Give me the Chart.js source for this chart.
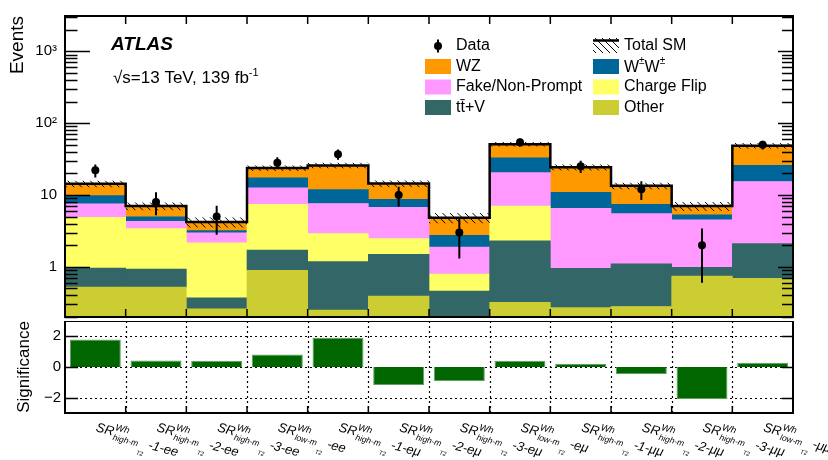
<!DOCTYPE html>
<html>
<head>
<meta charset="utf-8">
<script src="https://cdn.jsdelivr.net/npm/chart.js@4.4.0/dist/chart.umd.min.js"></script>
<style>
  html, body { margin: 0; padding: 0; background: #fff; }
  #wrap { position: relative; width: 828px; height: 460px; }
  #top { position: absolute; left: 0; top: 0; }
  #bot { position: absolute; left: 0; top: 321px; }
</style>
</head>
<body>
<div id="wrap">
  <canvas id="top" width="828" height="321"></canvas>
  <canvas id="bot" width="828" height="139"></canvas>
</div>
<script>
const FONT = '"Liberation Sans", Arial, Helvetica, sans-serif';

// signal regions
const srSub = ['high', 'high', 'high', 'low', 'high', 'high', 'high', 'low', 'high', 'high', 'high', 'low'];
const srSuffix = ['-1-ee', '-2-ee', '-3-ee', '-ee', '-1-eμ', '-2-eμ', '-3-eμ', '-eμ', '-1-μμ', '-2-μμ', '-3-μμ', '-μμ'];
const categories = srSub.map((s, i) => 'SR_' + s + srSuffix[i]);

// backgrounds, stacked from bottom to top
const other      = [0.52, 0.52, 0.26, 0.89, 0.25, 0.39, 0.10, 0.32, 0.27, 0.28, 0.74, 0.69];
const ttV        = [0.44, 0.41, 0.11, 0.82, 0.93, 1.10, 0.36, 1.98, 0.68, 0.82, 0.24, 1.42];
const chargeFlip = [3.94, 2.47, 1.79, 5.69, 1.72, 0.98, 0.33, 4.70, 0, 0, 0, 0];
const fake       = [2.60, 0.90, 0.80, 5.20, 4.70, 4.23, 1.09, 13.5, 5.55, 4.40, 3.52, 13.3];
const ww         = [2.30, 0.67, 0.23, 4.70, 4.30, 2.00, 0.87, 12.4, 4.40, 1.90, 0.80, 10.4];
const wz         = [4.50, 2.03, 1.01, 6.40, 13.9, 5.70, 2.05, 18.1, 13.4, 6.00, 1.70, 22.7];
const smUnc      = [1.6, 0.9, 0.7, 2.2, 2.5, 1.6, 0.8, 4.0, 2.5, 1.5, 1.0, 4.5];

// observed data
const dataObs  = [22, 8, 5, 28, 37, 10, 3, 54, 25, 12, 2, 50];
const dataLow  = [17.5, 5.2, 2.8, 23.9, 31, 6.9, 1.3, 47, 20.2, 8.5, 0.6, 43];
const dataHigh = [26.6, 10.9, 7.1, 33.6, 43, 13, 4.8, 61, 29.9, 15.5, 3.4, 57];

const significance = [1.8, 0.43, 0.4, 0.81, 1.9, -1.18, -0.92, 0.41, 0.2, -0.46, -2.08, 0.28];

const yTickValues = [1, 10, 100, 1000];
const yTickLabels = ['1', '10', '10²', '10³'];
const sigTickValues = [-2, 0, 2];
const sigTickLabels = ['−2', '0', '2'];

const stackNames = ['Other', 'tt̄+V', 'Charge Flip', 'Fake/Non-Prompt', 'W±W±', 'WZ'];
const stackValues = [other, ttV, chargeFlip, fake, ww, wz];
const stackColors = ['#cccc33', '#336666', '#ffff66', '#ff99ff', '#006699', '#ff9900'];

const totalSM = categories.map((_, i) => stackValues.reduce((s, arr) => s + arr[i], 0));

function binGeom(chart, i) {
    const xs = chart.scales.x;
    const half = (xs.getPixelForValue(1) - xs.getPixelForValue(0)) / 2;
    const c = xs.getPixelForValue(i);
    return [c - half, c + half, c];
}

function hatchRect(ctx, x0, y0, x1, y1, step) {
    ctx.save();
    ctx.beginPath();
    ctx.rect(x0, y0, x1 - x0, y1 - y0);
    ctx.clip();
    ctx.beginPath();
    const h = y1 - y0;
    const start = Math.floor((x0 - h) / step) * step;
    for (let x = start; x <= x1; x += step) {
        ctx.moveTo(x, y0);
        ctx.lineTo(x + h, y1);
    }
    ctx.lineWidth = 1;
    ctx.strokeStyle = '#000';
    ctx.stroke();
    ctx.restore();
}

// text with small raised/lowered parts
function textParts(ctx, x, y, parts) {
    for (const p of parts) {
        ctx.font = p.font;
        ctx.fillText(p.t, x, y + (p.dy || 0));
        x += ctx.measureText(p.t).width + (p.gap || 0);
    }
    return x;
}

// fixed axis box, no extra label padding
function fixAxis(s) {
    s.width = 65;
    s.paddingTop = 0;
    s.paddingBottom = 0;
}

const dataIndex = stackValues.length;

// ROOT style decorations for the upper pad
const topDeco = {
    id: 'topDeco',
    beforeDatasetDraw(chart, args) {
        if (args.index !== dataIndex) return;
        const ctx = chart.ctx;
        const y = chart.scales.y;
        const area = chart.chartArea;
        ctx.save();
        ctx.beginPath();
        ctx.rect(area.left, area.top, area.right - area.left, area.bottom - area.top);
        ctx.clip();
        // uncertainty hatch
        totalSM.forEach((t, i) => {
            const [xl, xr] = binGeom(chart, i);
            hatchRect(ctx, xl, y.getPixelForValue(t + smUnc[i]), xr, y.getPixelForValue(t - smUnc[i]), 7.5);
        });
        // total SM line
        ctx.beginPath();
        totalSM.forEach((t, i) => {
            const [xl, xr] = binGeom(chart, i);
            const yp = y.getPixelForValue(t);
            if (i === 0) ctx.moveTo(xl, yp); else ctx.lineTo(xl, yp);
            ctx.lineTo(xr, yp);
        });
        ctx.lineWidth = 2.5;
        ctx.strokeStyle = '#000';
        ctx.stroke();
        // data error bars
        ctx.beginPath();
        dataObs.forEach((d, i) => {
            const [, , xc] = binGeom(chart, i);
            ctx.moveTo(xc, y.getPixelForValue(dataHigh[i]));
            ctx.lineTo(xc, y.getPixelForValue(dataLow[i]));
        });
        ctx.lineWidth = 2;
        ctx.stroke();
        ctx.restore();
    },
    afterDraw(chart) {
        const ctx = chart.ctx;
        const a = chart.chartArea;
        const y = chart.scales.y;
        ctx.save();
        ctx.strokeStyle = '#000';
        ctx.fillStyle = '#000';
        // inward ticks on the log axis
        ctx.lineWidth = 1.5;
        ctx.beginPath();
        for (let k = -1; k <= 3; k++) {
            for (let m = 1; m <= 9; m++) {
                const v = m * Math.pow(10, k);
                if (v < y.min || v > y.max) continue;
                const yp = Math.round(y.getPixelForValue(v)) + 0.5;
                const major = m === 1;
                ctx.moveTo(a.left, yp); ctx.lineTo(a.left + (major ? 25 : 12.5), yp);
                ctx.moveTo(a.right, yp); ctx.lineTo(a.right - (major ? 15 : 11), yp);
            }
        }
        for (let i = 0; i <= categories.length; i++) {
            const xp = i < categories.length ? binGeom(chart, i)[0] : binGeom(chart, i - 1)[1];
            ctx.moveTo(xp, a.top); ctx.lineTo(xp, a.top + 8);
            ctx.moveTo(xp, a.bottom); ctx.lineTo(xp, a.bottom - 8);
        }
        ctx.stroke();
        // frame
        ctx.lineWidth = 2;
        ctx.strokeRect(a.left, a.top, a.right - a.left, a.bottom - a.top);

        // labels
        ctx.textBaseline = 'alphabetic';
        ctx.font = 'italic bold 19px ' + FONT;
        ctx.fillText('ATLAS', 111, 50);
        textParts(ctx, 113, 83, [
            { t: '√s=13 TeV, 139 fb', font: '17px ' + FONT },
            { t: '-1', font: '11px ' + FONT, dy: -7 }
        ]);

        // legend
        const rows = [45.5, 66.5, 87, 107.5];
        const c1 = 425, c2 = 593, bw = 26, bh = 15;
        ctx.textBaseline = 'middle';
        ctx.font = '16px ' + FONT;
        // Data
        ctx.beginPath();
        ctx.arc(c1 + 13, rows[0] + 0.5, 4, 0, Math.PI * 2);
        ctx.fill();
        ctx.beginPath();
        ctx.moveTo(c1 + 13, rows[0] - 6); ctx.lineTo(c1 + 13, rows[0] + 7);
        ctx.lineWidth = 2; ctx.stroke();
        ctx.fillText('Data', c1 + 31, rows[0]);
        // Total SM
        hatchRect(ctx, c2, rows[0] - 7.5, c2 + bw, rows[0] + 7.5, 7);
        ctx.beginPath();
        ctx.moveTo(c2, rows[0] - 5); ctx.lineTo(c2 + bw, rows[0] - 5);
        ctx.lineWidth = 2.5; ctx.stroke();
        ctx.fillText('Total SM', c2 + 31, rows[0]);
        const sets = chart.data.datasets;
        const byLabel = l => sets.find(s => s.label === l);
        const col1 = ['WZ', 'Fake/Non-Prompt', 'tt̄+V'];
        const col2 = ['W±W±', 'Charge Flip', 'Other'];
        col1.forEach((l, r) => {
            ctx.fillStyle = byLabel(l).backgroundColor;
            ctx.fillRect(c1, rows[r + 1] - bh / 2, bw, bh);
            ctx.fillStyle = '#000';
            ctx.font = '16px ' + FONT;
            ctx.fillText(l, c1 + 31, rows[r + 1]);
        });
        col2.forEach((l, r) => {
            ctx.fillStyle = byLabel(l).backgroundColor;
            ctx.fillRect(c2, rows[r + 1] - bh / 2, bw, bh);
            ctx.fillStyle = '#000';
            if (l === 'W±W±') {
                textParts(ctx, c2 + 31, rows[r + 1] + 1, [
                    { t: 'W', font: '16px ' + FONT },
                    { t: '±', font: '10px ' + FONT, dy: -6 },
                    { t: 'W', font: '16px ' + FONT },
                    { t: '±', font: '10px ' + FONT, dy: -6 }
                ]);
            } else {
                ctx.font = '16px ' + FONT;
                ctx.fillText(l, c2 + 31, rows[r + 1]);
            }
        });
        ctx.restore();
    }
};

const barSets = stackValues.map((vals, i) => ({
    type: 'bar',
    label: stackNames[i],
    data: vals,
    backgroundColor: stackColors[i],
    borderWidth: 0,
    barPercentage: 1,
    categoryPercentage: 1,
    stack: 'sm',
    order: 2
}));

new Chart(document.getElementById('top'), {
    type: 'bar',
    data: {
        labels: categories,
        datasets: [...barSets, {
            type: 'line',
            label: 'Data',
            data: dataObs,
            showLine: false,
            pointRadius: 4,
            pointBackgroundColor: '#000',
            pointBorderColor: '#000',
            pointBorderWidth: 0,
            stack: 'obs',
            order: 0
        }]
    },
    options: {
        responsive: false,
        animation: false,
        events: [],
        layout: { padding: { left: 0, right: 35, top: 16, bottom: 1 } },
        plugins: { legend: { display: false }, tooltip: { enabled: false } },
        scales: {
            x: { display: false, stacked: true },
            y: {
                type: 'logarithmic',
                min: 0.2,
                max: 3100,
                stacked: true,
                afterBuildTicks: s => { s.ticks = yTickValues.map(v => ({ value: v })); },
                afterFit: fixAxis,
                ticks: {
                    callback: (v, i) => yTickLabels[i],
                    color: '#000',
                    padding: 8,
                    font: { family: FONT, size: 15 }
                },
                grid: { display: false, drawTicks: false },
                border: { display: false },
                title: {
                    display: true,
                    text: 'Events',
                    align: 'end',
                    color: '#000',
                    padding: { top: 6, bottom: 0 },
                    font: { family: FONT, size: 19 }
                }
            }
        }
    },
    plugins: [topDeco]
});

// lower pad
function drawSRLabel(ctx, x, y, sub, suffix) {
    ctx.save();
    ctx.translate(x, y);
    ctx.rotate(15 * Math.PI / 180);
    ctx.fillStyle = '#000';
    ctx.textBaseline = 'alphabetic';
    ctx.font = 'italic 13px ' + FONT;
    ctx.fillText('SR', 0, 0);
    const u = ctx.measureText('SR').width;
    ctx.font = 'italic 9.5px ' + FONT;
    ctx.fillText('Wh', u + 0.5, -6);
    ctx.font = 'italic 8.5px ' + FONT;
    ctx.fillText(sub + '-m', u + 0.5, 4);
    let u2 = u + 0.5 + ctx.measureText(sub + '-m').width + 0.5;
    ctx.font = 'italic 6px ' + FONT;
    ctx.fillText('T2', u2, 12);
    u2 += ctx.measureText('T2').width + 3;
    ctx.font = 'italic 13px ' + FONT;
    ctx.fillText(suffix, u2, 3.5);
    ctx.restore();
}

const botDeco = {
    id: 'botDeco',
    beforeDatasetsDraw(chart) {
        const ctx = chart.ctx;
        const a = chart.chartArea;
        const y = chart.scales.y;
        ctx.save();
        ctx.strokeStyle = '#000';
        ctx.lineWidth = 1.2;
        ctx.setLineDash([2, 3]);
        ctx.beginPath();
        sigTickValues.forEach(v => {
            const yp = Math.round(y.getPixelForValue(v)) + 0.5;
            ctx.moveTo(a.left, yp); ctx.lineTo(a.right, yp);
        });
        for (let i = 1; i < categories.length; i++) {
            const xp = Math.round(binGeom(chart, i)[0]) + 0.5;
            ctx.moveTo(xp, a.top); ctx.lineTo(xp, a.bottom);
        }
        ctx.stroke();
        ctx.restore();
    },
    afterDraw(chart) {
        const ctx = chart.ctx;
        const a = chart.chartArea;
        const y = chart.scales.y;
        ctx.save();
        ctx.strokeStyle = '#000';
        ctx.lineWidth = 1.5;
        ctx.beginPath();
        sigTickValues.forEach(v => {
            const yp = Math.round(y.getPixelForValue(v)) + 0.5;
            ctx.moveTo(a.left, yp); ctx.lineTo(a.left + 13, yp);
            ctx.moveTo(a.right, yp); ctx.lineTo(a.right - 11, yp);
        });
        for (let i = 1; i < categories.length; i++) {
            const xp = binGeom(chart, i)[0];
            ctx.moveTo(xp, a.bottom); ctx.lineTo(xp, a.bottom - 7);
        }
        ctx.stroke();
        ctx.lineWidth = 2;
        ctx.strokeRect(a.left, a.top, a.right - a.left, a.bottom - a.top);
        categories.forEach((c, i) => {
            const xc = binGeom(chart, i)[2];
            drawSRLabel(ctx, xc, a.bottom + 18, srSub[i], srSuffix[i]);
        });
        ctx.restore();
    }
};

new Chart(document.getElementById('bot'), {
    type: 'bar',
    data: {
        labels: categories,
        datasets: [{
            label: 'Significance',
            data: significance,
            backgroundColor: '#006600',
            borderColor: '#5f9f5f',
            borderWidth: 1,
            barPercentage: 0.84,
            categoryPercentage: 1
        }]
    },
    options: {
        responsive: false,
        animation: false,
        events: [],
        layout: { padding: { left: 0, right: 35, top: 0, bottom: 47 } },
        plugins: { legend: { display: false }, tooltip: { enabled: false } },
        scales: {
            x: { display: false },
            y: {
                min: -3,
                max: 3,
                afterBuildTicks: s => { s.ticks = sigTickValues.map(v => ({ value: v })); },
                afterFit: fixAxis,
                ticks: {
                    callback: (v, i) => sigTickLabels[i],
                    color: '#000',
                    padding: 4,
                    font: { family: FONT, size: 15 }
                },
                grid: { display: false, drawTicks: false },
                border: { display: false },
                title: {
                    display: true,
                    text: 'Significance',
                    color: '#000',
                    padding: { top: 14, bottom: 0 },
                    font: { family: FONT, size: 17 }
                }
            }
        }
    },
    plugins: [botDeco]
});
</script>
</body>
</html>
